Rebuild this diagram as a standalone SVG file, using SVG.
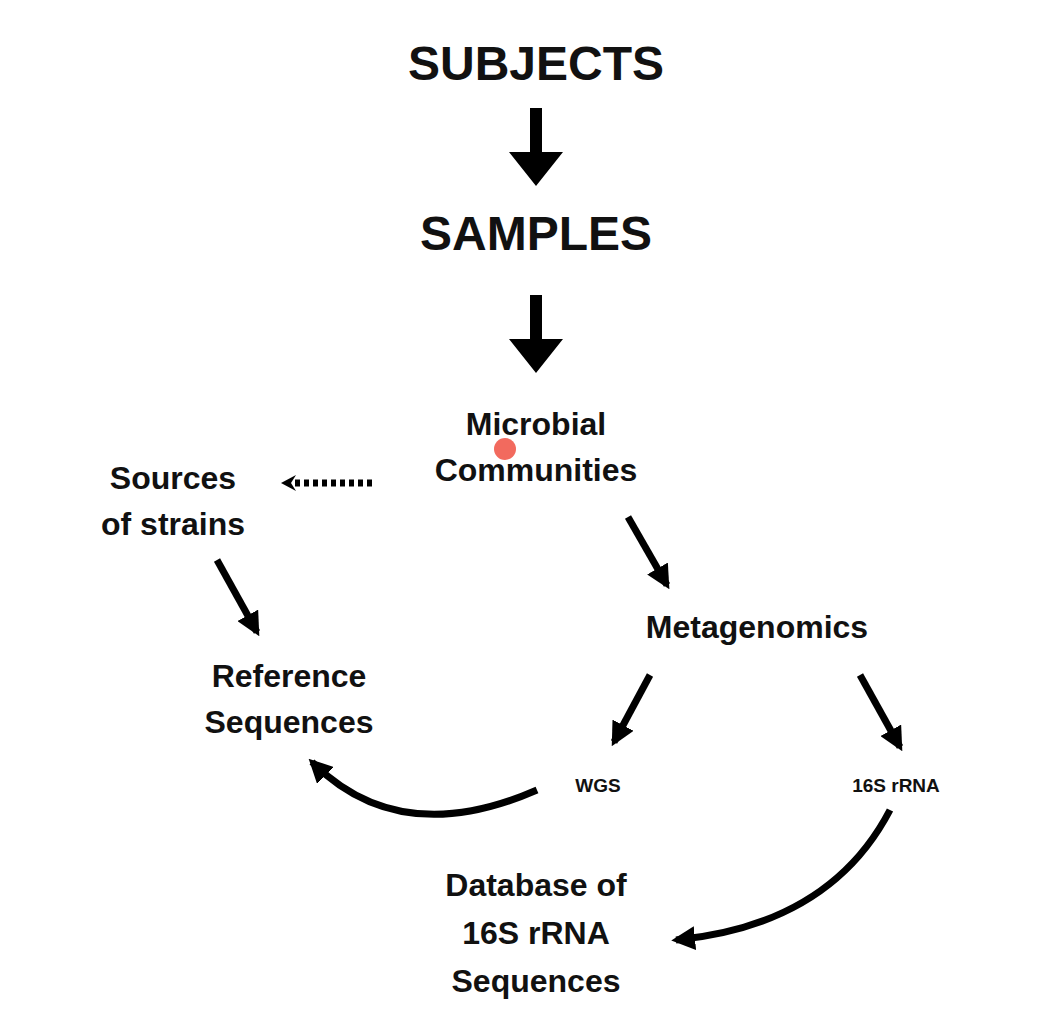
<svg xmlns="http://www.w3.org/2000/svg" width="1060" height="1016" viewBox="0 0 1060 1016">
<defs>
<style>
text{font-family:"Liberation Sans",Arial,sans-serif;font-weight:bold;fill:#111;text-anchor:middle}
.big{font-size:48px}.mid{font-size:32px}.sm{font-size:19px}
.c{stroke:#000;stroke-width:7;fill:none}
</style>
<marker id="h" viewBox="0 0 10 10" refX="8" refY="5" markerWidth="3.4" markerHeight="3.4" orient="auto"><path d="M0,0L10,5L0,10z" fill="#000"/></marker>
</defs>
<rect width="1060" height="1016" fill="#fff"/>
<g id="subjects"><text class="big" x="536" y="80">SUBJECTS</text></g>
<g id="samples"><text class="big" x="536" y="250">SAMPLES</text></g>
<g id="microbial"><text class="mid" x="536" y="435">Microbial</text><text class="mid" x="536" y="481">Communities</text></g>
<g id="sources"><text class="mid" x="173" y="489">Sources</text><text class="mid" x="173" y="535">of strains</text></g>
<g id="metagenomics"><text class="mid" x="757" y="638">Metagenomics</text></g>
<g id="reference"><text class="mid" x="289" y="687">Reference</text><text class="mid" x="289" y="733">Sequences</text></g>
<g id="wgs"><text class="sm" x="598" y="792">WGS</text></g>
<g id="rrna"><text class="sm" x="896" y="792">16S rRNA</text></g>
<g id="database"><text class="mid" x="536" y="896">Database of</text><text class="mid" x="536" y="944">16S rRNA</text><text class="mid" x="536" y="992">Sequences</text></g>
<g id="connectors">
<path d="M530,108h12v44h21l-27,34l-27,-34h21z" fill="#000"/>
<path d="M530,295h12v44h21l-27,34l-27,-34h21z" fill="#000"/>
<path d="M372,483H292" stroke="#000" stroke-width="7" stroke-dasharray="5,4"/>
<path d="M296,475L281,483L296,491L291,483z" fill="#000"/>
<path class="c" d="M628,517L667,585" marker-end="url(#h)"/>
<path class="c" d="M217,560L257,632" marker-end="url(#h)"/>
<path class="c" d="M650,675L614,742" marker-end="url(#h)"/>
<path class="c" d="M860,675L900,747" marker-end="url(#h)"/>
<path class="c" d="M537,790Q400,850 312,762" marker-end="url(#h)"/>
<path class="c" d="M890,810Q830,925 676,940" marker-end="url(#h)"/>
</g>
<circle cx="505" cy="449" r="11" fill="#f26a5e"/>
</svg>
